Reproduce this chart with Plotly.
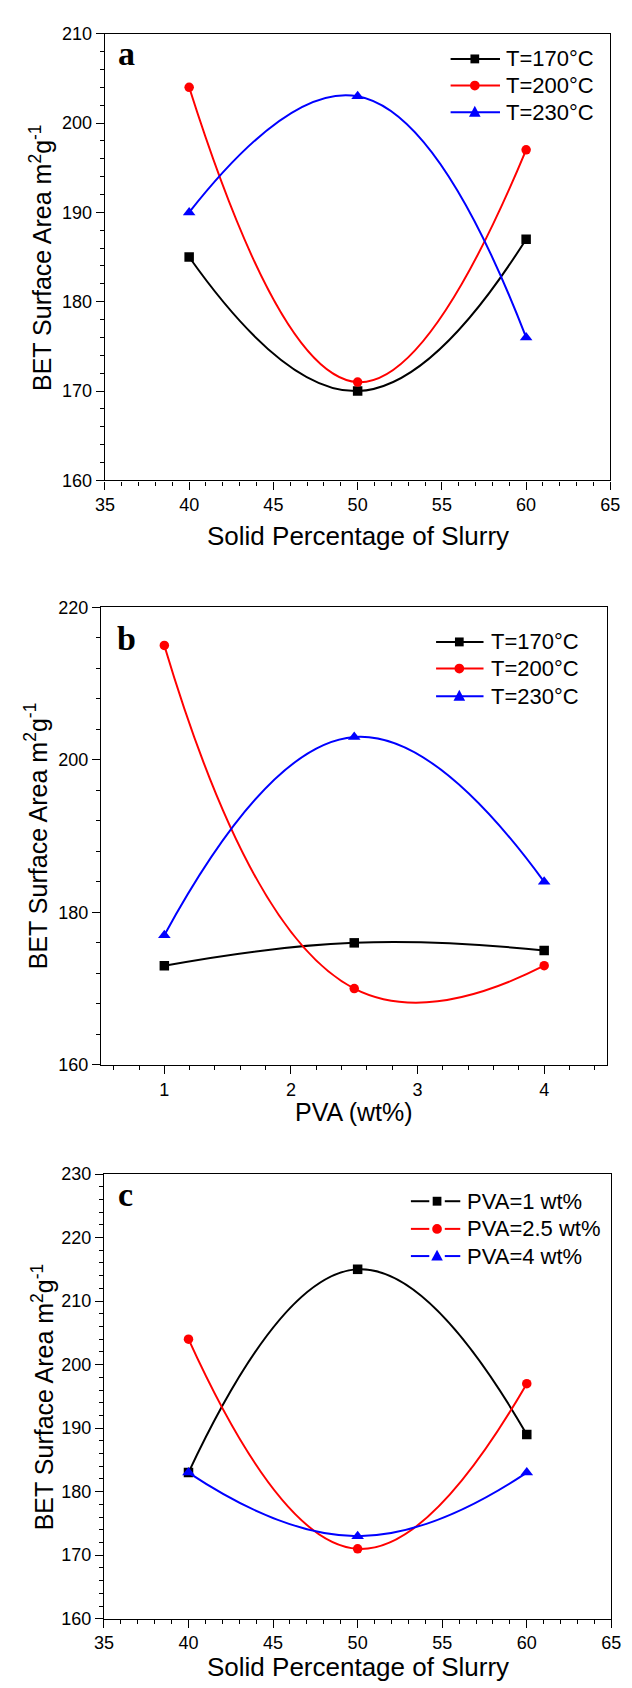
import plotly.graph_objects as go

W, H = 632, 1688

# ---------------- data ----------------
solid_pct = [40, 50, 60]
pva_wt = [1, 2.5, 4]

a_T170 = [185, 170, 187]
a_T200 = [204, 171, 197]
a_T230 = [190, 203, 176]

b_T170 = [173, 176, 175]
b_T200 = [215, 170, 173]
b_T230 = [177, 203, 184]

c_PVA1 = [183, 215, 189]
c_PVA25 = [204, 171, 197]
c_PVA4 = [183, 173, 183]

names_T = ["T=170°C", "T=200°C", "T=230°C"]
names_PVA = ["PVA=1 wt%", "PVA=2.5 wt%", "PVA=4 wt%"]

colors = ["#000000", "#ff0000", "#0000ff"]
symbols = ["square", "circle", "triangle-up"]

FONT = "Liberation Sans, Arial, sans-serif"
SERIF = "Liberation Serif, Times New Roman, serif"


def px_x(p):
    return p / W


def px_y(p):
    return 1 - p / H


fig = go.Figure()

panels = [
    (solid_pct, [a_T170, a_T200, a_T230], names_T, "x", "y"),
    (pva_wt, [b_T170, b_T200, b_T230], names_T, "x2", "y2"),
    (solid_pct, [c_PVA1, c_PVA25, c_PVA4], names_PVA, "x3", "y3"),
]
for xs, series, names, xa, ya in panels:
    for i, (vals, nm) in enumerate(zip(series, names)):
        fig.add_trace(go.Scatter(
            x=xs, y=vals, name=nm, mode="lines+markers", showlegend=False,
            line=dict(color=colors[i], width=2, shape="spline", smoothing=1.3),
            marker=dict(symbol=symbols[i], size=11 if symbols[i] == "triangle-up" else 9.5,
                        color=colors[i]),
            xaxis=xa, yaxis=ya,
        ))


def ax(domain, rng, dtick, minor_dtick, anchor):
    return dict(domain=domain, range=rng, dtick=dtick, tick0=0, anchor=anchor,
                showline=True, linecolor="black", linewidth=1.3, mirror=True,
                ticks="outside", ticklen=8, tickwidth=1.2, tickcolor="black",
                minor=dict(dtick=minor_dtick, ticks="outside", ticklen=4,
                           tickwidth=1.2, tickcolor="black", showgrid=False),
                showgrid=False, zeroline=False,
                tickfont=dict(family=FONT, size=18, color="black"))


# pixel geometry of the three panels
A = dict(l=98, r=620, t=24, b=476)
B = dict(l=94, r=617, t=604.5, b=1067.5)
C = dict(l=97, r=621, t=1178, b=1628)

fig.update_layout(
    width=W, height=H, margin=dict(l=0, r=0, t=0, b=0),
    paper_bgcolor="white", plot_bgcolor="white", showlegend=False,
    font=dict(family=FONT, color="black"),
    xaxis=ax([px_x(A["l"]), px_x(A["r"])], [35, 65], 5, 1, "y"),
    yaxis=ax([px_y(A["b"]), px_y(A["t"])], [160, 210], 10, 2, "x"),
    xaxis2=ax([px_x(B["l"]), px_x(B["r"])], [0.5, 4.5], 1, 0.2, "y2"),
    yaxis2=ax([px_y(B["b"]), px_y(B["t"])], [160, 220], 20, 4, "x2"),
    xaxis3=ax([px_x(C["l"]), px_x(C["r"])], [35, 65], 5, 1, "y3"),
    yaxis3=ax([px_y(C["b"]), px_y(C["t"])], [160, 230], 10, 2, "x3"),
)

ann = []
shapes = []


# ---------------- legends (drawn as layout decorations) ----------------
def add_legend(names, line_l, line_r, mx, text_x, rows, gap=0):
    for i, (nm, ry) in enumerate(zip(names, rows)):
        col = colors[i]
        if gap:
            segs = [(line_l, mx - gap), (mx + gap, line_r)]
        else:
            segs = [(line_l, line_r)]
        for s0, s1 in segs:
            shapes.append(dict(type="line", xref="paper", yref="paper",
                               x0=px_x(s0), x1=px_x(s1), y0=px_y(ry), y1=px_y(ry),
                               line=dict(color=col, width=2)))
        if symbols[i] == "square":
            h = 4.5
            shapes.append(dict(type="rect", xref="paper", yref="paper",
                               x0=px_x(mx - h), x1=px_x(mx + h), y0=px_y(ry + h), y1=px_y(ry - h),
                               fillcolor=col, line=dict(width=0)))
        elif symbols[i] == "circle":
            h = 5
            shapes.append(dict(type="circle", xref="paper", yref="paper",
                               x0=px_x(mx - h), x1=px_x(mx + h), y0=px_y(ry + h), y1=px_y(ry - h),
                               fillcolor=col, line=dict(width=0)))
        else:
            path = "M%f,%f L%f,%f L%f,%f Z" % (
                px_x(mx), px_y(ry - 6.5), px_x(mx - 6), px_y(ry + 4.5), px_x(mx + 6), px_y(ry + 4.5))
            shapes.append(dict(type="path", xref="paper", yref="paper", path=path,
                               fillcolor=col, line=dict(width=0)))
        ann.append(dict(x=px_x(text_x), y=px_y(ry), xref="paper", yref="paper", text=nm,
                        showarrow=False, xanchor="left", yanchor="middle",
                        font=dict(family=FONT, size=22, color="black")))


add_legend(names_T, 455, 506, 480, 510, [49.5, 76.5, 103.5])
add_legend(names_T, 440, 489, 464, 495, [639.5, 666.5, 694.5])
add_legend(names_PVA, 414, 465, 441, 470, [1205.5, 1233.5, 1261], gap=8)

# ---------------- titles and panel letters ----------------
ytitle = "BET Surface Area m<sup>2</sup>g<sup>-1</sup>"
for P, xt, xt_size, letter, lx, ly, xtitle_y, ylab_x in [
    (A, "Solid Percentage of Slurry", 26, "a", 120, 44, 532, 32),
    (B, "PVA (wt%)", 25, "b", 120.5, 636, 1115, 27),
    (C, "Solid Percentage of Slurry", 26, "c", 119, 1199, 1677, 34),
]:
    ann.append(dict(x=px_x((P["l"] + P["r"]) / 2), y=px_y(xtitle_y), xref="paper", yref="paper",
                    text=xt, showarrow=False, xanchor="center", yanchor="middle",
                    font=dict(family=FONT, size=xt_size, color="black")))
    ann.append(dict(x=px_x(ylab_x), y=px_y((P["t"] + P["b"]) / 2), xref="paper", yref="paper",
                    text=ytitle, showarrow=False, textangle=-90, xanchor="center", yanchor="middle",
                    font=dict(family=FONT, size=25, color="black")))
    ann.append(dict(x=px_x(lx), y=px_y(ly), xref="paper", yref="paper",
                    text="<b>%s</b>" % letter, showarrow=False, xanchor="center", yanchor="middle",
                    font=dict(family=SERIF, size=34, color="black")))

fig.update_layout(annotations=ann, shapes=shapes)

fig.write_html(
    "out.html",
    config={"displayModeBar": False},
    post_script="document.body.style.margin='0';document.body.style.overflow='hidden';",
)
